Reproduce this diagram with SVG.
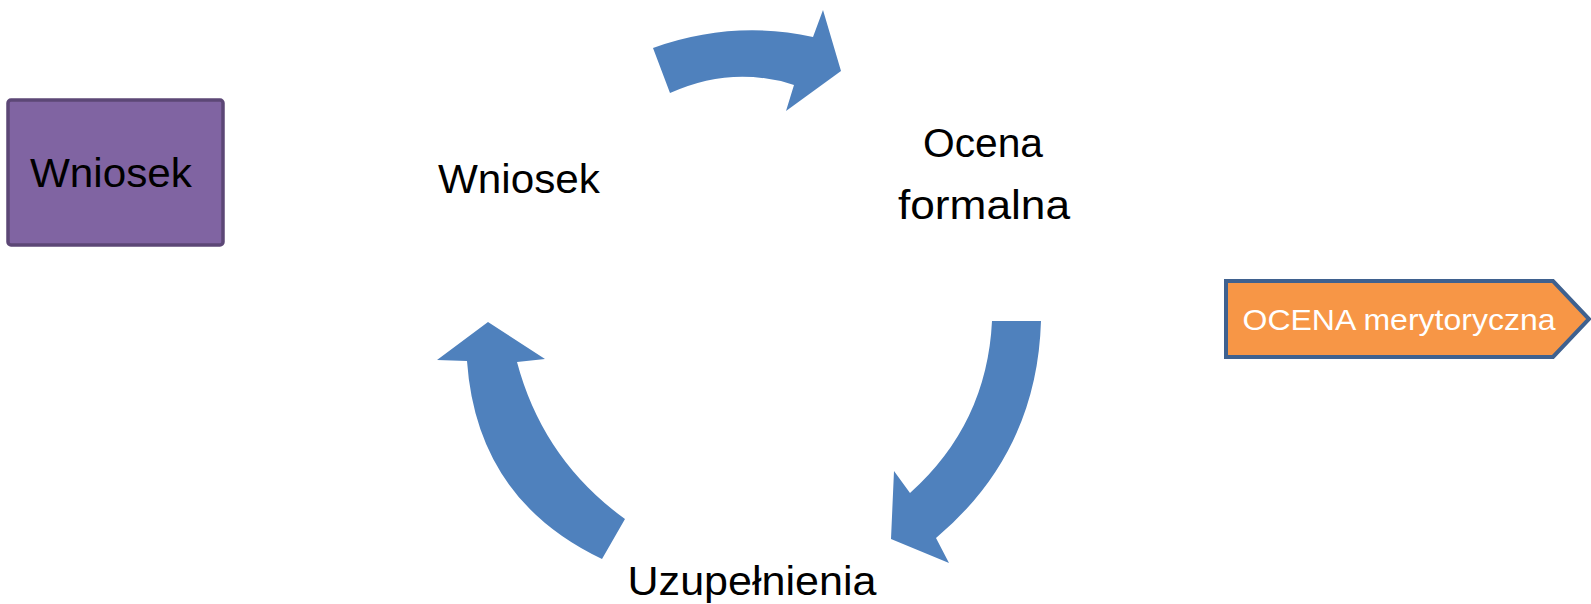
<svg xmlns="http://www.w3.org/2000/svg" width="1591" height="604" viewBox="0 0 1591 604">
<style>
.arrow{fill:#4F81BD;stroke:none}
.lbl{font-family:"Liberation Sans",Arial,sans-serif;fill:#000;text-anchor:middle}
.big{font-size:40px}
</style>
<rect x="0" y="0" width="1591" height="604" fill="#FFFFFF"/>
<g id="node-wniosek-box">
<rect x="8" y="100" width="215" height="145" rx="3" fill="#8064A2" stroke="#5C4776" stroke-width="3.5"/>
<text class="lbl big" x="111" y="187" textLength="162" lengthAdjust="spacingAndGlyphs">Wniosek</text>
</g>
<g id="node-wniosek">
<text class="lbl big" x="519" y="193" textLength="162" lengthAdjust="spacingAndGlyphs">Wniosek</text>
</g>
<g id="node-ocena-formalna">
<text class="lbl big" x="983" y="157" textLength="120" lengthAdjust="spacingAndGlyphs">Ocena</text>
<text class="lbl big" x="984" y="219" textLength="172" lengthAdjust="spacingAndGlyphs">formalna</text>
</g>
<g id="node-uzupelnienia">
<text class="lbl big" x="752" y="595" textLength="249" lengthAdjust="spacingAndGlyphs">Uzupełnienia</text>
</g>
<g id="node-ocena-merytoryczna">
<polygon points="1226,281 1553,281 1589,319 1553,357 1226,357" fill="#F79646" stroke="#3F618F" stroke-width="4" stroke-linejoin="miter"/>
<text class="lbl" x="1399" y="330" font-size="30" fill="#FFFFFF" style="fill:#FFFFFF" textLength="313" lengthAdjust="spacingAndGlyphs">OCENA merytoryczna</text>
</g>
<g id="connectors">
<path class="arrow" d="M653,48 Q733,19.5 813,37 L823,10 L841,71 L786,111 L794,85 Q732,65 670,93 Z"/>
<path class="arrow" d="M992,321 L1041,321 Q1037,453 936,538 L949,563 L891,539 L894,471 L910,493 Q987,424 992,321 Z"/>
<path class="arrow" d="M602,559 Q476.7,499.4 467,361 L437,360 L488,322 L545,359 L517,362 Q543,459.8 625,519 Z"/>
</g>
</svg>
